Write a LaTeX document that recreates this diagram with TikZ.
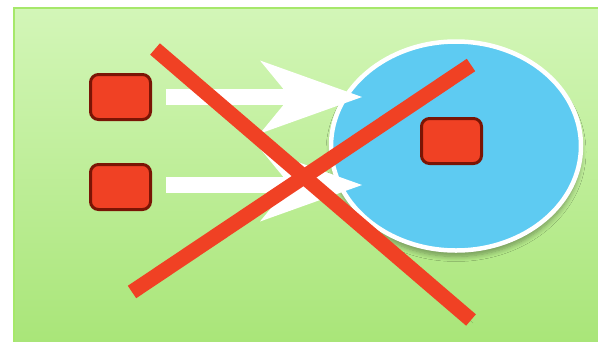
\documentclass[tikz,border=0pt]{standalone}
\usetikzlibrary{arrows.meta,positioning,shapes.geometric,shadows.blur}
\definecolor{bgTop}{HTML}{D3F6B8}
\definecolor{bgBottom}{HTML}{A8E577}
\definecolor{bgEdge}{HTML}{A6E86A}
\definecolor{crossRed}{HTML}{F04124}
\definecolor{boxEdge}{HTML}{7A1505}
\definecolor{poolBlue}{HTML}{5ECBF2}
\begin{document}
\begin{tikzpicture}[x=1pt, y=-1pt,
  item/.style={draw=boxEdge, fill=crossRed, line width=3pt, rounded corners=8pt, minimum width=60pt, minimum height=45pt, inner sep=0pt},
  pool/.style={ellipse, draw=white, fill=poolBlue, line width=4.5pt, minimum width=250pt, minimum height=209pt, inner sep=0pt,
    blur shadow={shadow xshift=0pt, shadow yshift=-6pt, shadow opacity=35, shadow blur radius=5pt, shadow blur steps=8}},
  flow/.style={draw=white, line width=16pt, -{Stealth[length=102pt, width=73pt, inset=30pt, line width=0pt]}, shorten <=14pt},
  strike/.style={draw=crossRed, line width=15pt, preaction={draw=black!70!green, opacity=.25, transform canvas={shift={(2pt,-3pt)}}}}
]
\useasboundingbox (0,0) rectangle (598,341);
\clip (0,0) rectangle (598,341);
\shade[top color=bgTop, bottom color=bgBottom, draw=bgEdge, line width=1.5pt] (14,8) rectangle (610,350);
% target pool with one item inside
\node[pool] (pool) at (456,146) {};
\node[item] (dst) at (451.5,141) {};
% two incoming items
\coordinate (tip1) at (362,97);
\coordinate (tip2) at (362,185);
\node[item] (src1) at (120.5,97) {};
\node[item] (src2) at (120.5,187) {};
\draw[flow] (src1.east) -- (tip1);
\draw[flow] (src2.east |- tip2) -- (tip2);
% crossed out
\draw[strike] (155,49) -- (471,320);
\draw[strike] (132,292) -- (471,65);
\end{tikzpicture}
\end{document}
